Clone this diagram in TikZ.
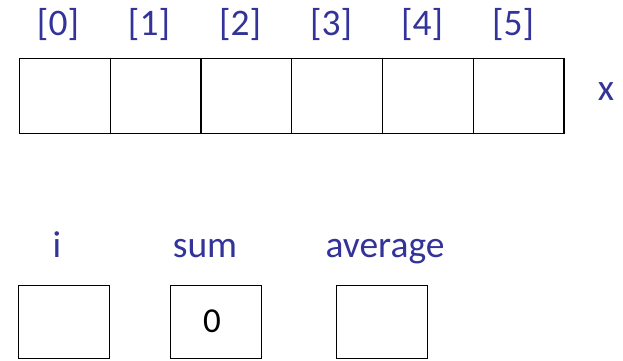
\documentclass[tikz,border=0pt]{standalone}
\usepackage{fontspec}
\setmainfont{Carlito}
\definecolor{lblblue}{RGB}{51,51,153}
\begin{document}
\begin{tikzpicture}[x=1pt,y=-1pt,
  cell/.style={draw=black,line width=1.3pt,minimum width=90.7pt,minimum height=75pt,inner sep=0pt,anchor=north west},
  var/.style={draw=black,line width=1.3pt,minimum width=91pt,minimum height=73pt,inner sep=0pt,anchor=north west},
  lbl/.style={text=lblblue,font=\fontsize{37.5}{45}\selectfont,inner sep=0pt,anchor=base},
  val/.style={text=black,font=\fontsize{35}{42}\selectfont,inner sep=0pt,anchor=base}]
\useasboundingbox (0,0) rectangle (623,360);
\foreach \k in {0,...,5} {
  \node[cell] (c\k) at ({19+\k*90.7},58) {};
  \node[lbl] (l\k) at ({58+\k*91},35) {[\k]};
}
\node[lbl] (xname) at (606,100) {x};
\node[lbl] (li) at (57,257) {i};
\node[lbl] (lsum) at (205,257) {sum};
\node[lbl] (lavg) at (385,257) {average};
\node[var] (vi) at (18,285) {};
\node[var] (vsum) at (170,285) {};
\node[var] (vavg) at (336,285) {};
\node[val] (zero) at (212,332) {0};
\end{tikzpicture}
\end{document}
